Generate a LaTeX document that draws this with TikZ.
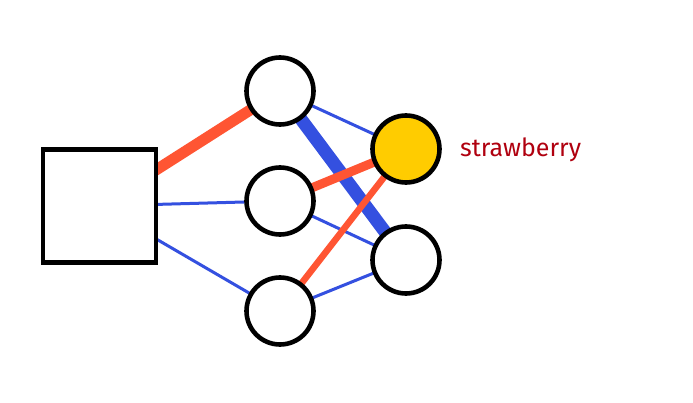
\documentclass[tikz,border=0pt]{standalone}
\usepackage{fontspec}
\usetikzlibrary{backgrounds}
\newfontfamily\handfont{Fira Sans}
\begin{document}
\begin{tikzpicture}[x=1pt,y=-1pt,
  neuron/.style={circle,draw=black,line width=4.6pt,fill=white,minimum size=67pt,inner sep=0pt},
  inbox/.style={rectangle,draw=black,line width=4.6pt,fill=white,minimum size=113pt,inner sep=0pt},
  poswt/.style={draw=wred,line cap=butt},
  negwt/.style={draw=wblue,line cap=butt}]
\definecolor{wred}{HTML}{FF5533}
\definecolor{wblue}{HTML}{3450E0}
\definecolor{wyellow}{HTML}{FFCC00}
\definecolor{tred}{HTML}{B0000F}
\useasboundingbox (0,0) rectangle (693,403);
\node[inbox] (in) at (99.5,206) {};
\node[neuron] (h1) at (280,91) {};
\node[neuron] (h2) at (280,201) {};
\node[neuron] (h3) at (280,311) {};
\node[neuron,fill=wyellow] (o1) at (406,149) {};
\node[neuron] (o2) at (406,260) {};
\node[text=tred,font=\handfont\fontsize{25}{30}\selectfont,anchor=west,inner sep=0pt] (lbl) at (460,150) {strawberry};
\begin{scope}[on background layer]
\fill[white] (0,0) rectangle (693,403);
\draw[poswt,line width=11pt] (in.center) -- (h1.center);
\draw[negwt,line width=3pt] (in.center) -- (h2.center);
\draw[negwt,line width=3pt] (in.center) -- (h3.center);
\draw[negwt,line width=3pt] (h1.center) -- (o1.center);
\draw[negwt,line width=13pt] (h1.center) -- (o2.center);
\draw[poswt,line width=9pt] (h2.center) -- (o1.center);
\draw[negwt,line width=3pt] (h2.center) -- (o2.center);
\draw[poswt,line width=6.5pt] (h3.center) -- (o1.center);
\draw[negwt,line width=3pt] (h3.center) -- (o2.center);
\end{scope}
\end{tikzpicture}
\end{document}
